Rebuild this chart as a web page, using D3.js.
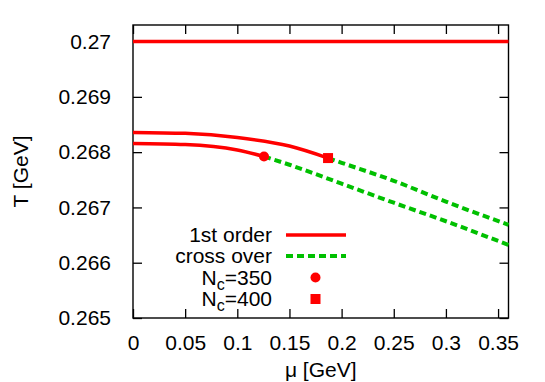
<!DOCTYPE html>
<html>
<head>
<meta charset="utf-8">
<script src="https://cdn.jsdelivr.net/npm/d3@7"></script>
<style>
html,body{margin:0;padding:0;background:#fff;}
svg{display:block;font-family:"Liberation Sans",Arial,Helvetica,sans-serif;}
</style>
</head>
<body>
<svg id="chart" width="545" height="382"></svg>
<script>
// ---- data ----
const xTicks = [0, 0.05, 0.1, 0.15, 0.2, 0.25, 0.3, 0.35];
const yTicks = [0.265, 0.266, 0.267, 0.268, 0.269, 0.27];
const xTickLabels = ["0", "0.05", "0.1", "0.15", "0.2", "0.25", "0.3", "0.35"];
const yTickLabels = ["0.265", "0.266", "0.267", "0.268", "0.269", "0.27"];

// first-order line at the top
const topLineMu = [0, 0.36];
const topLineT = [0.27, 0.27];

// N_c = 350
const first350Mu = [0, 0.05, 0.1, 0.1256];
const first350T = [0.268158, 0.268139, 0.268040, 0.267922];
const cross350Mu = [0.1256, 0.15, 0.2, 0.25, 0.3, 0.36];
const cross350T = [0.267922, 0.267772, 0.267430, 0.267085, 0.266750, 0.266322];

// N_c = 400
const first400Mu = [0, 0.05, 0.1, 0.15, 0.187];
const first400T = [0.268357, 0.268340, 0.268265, 0.268110, 0.267893];
const cross400Mu = [0.187, 0.2, 0.25, 0.3, 0.36];
const cross400T = [0.267893, 0.267808, 0.267482, 0.267105, 0.266685];

// end points
const endPointMu = [0.1256, 0.187];
const endPointT = [0.267922, 0.267893];

const legendLabels = ["1st order", "cross over", "350", "400"];

// ---- layout ----
const svg = d3.select("#chart");
const L = 133, R = 508.5, T = 25, B = 318;
const x = d3.scaleLinear().domain([0, 0.36]).range([L, R]);
const y = d3.scaleLinear().domain([0.265, 0.2703]).range([B, T]);
const RED = "#ff0000", GREEN = "#00c000";
const FS = 21;

const zip = (a, b) => a.map((v, i) => [v, b[i]]);
const line = d3.line().x(d => x(d[0])).y(d => y(d[1])).curve(d3.curveMonotoneX);

// axes with inward ticks
const tl = 9;
svg.append("g").attr("transform", `translate(0,${B})`)
  .call(d3.axisBottom(x).tickValues(xTicks).tickSize(-tl).tickFormat((d, i) => xTickLabels[i]).tickPadding(17))
  .call(g => g.select(".domain").remove());
svg.append("g").attr("transform", `translate(0,${T})`)
  .call(d3.axisTop(x).tickValues(xTicks).tickSize(-tl).tickFormat(""))
  .call(g => g.select(".domain").remove());
svg.append("g").attr("transform", `translate(${L},0)`)
  .call(d3.axisLeft(y).tickValues(yTicks).tickSize(-tl).tickFormat((d, i) => yTickLabels[i]).tickPadding(22))
  .call(g => g.select(".domain").remove());
svg.append("g").attr("transform", `translate(${R},0)`)
  .call(d3.axisRight(y).tickValues(yTicks).tickSize(-tl).tickFormat(""))
  .call(g => g.select(".domain").remove());

svg.selectAll(".tick line").attr("stroke", "#000").attr("stroke-width", 1.3);
svg.selectAll(".tick text").attr("font-size", FS).attr("fill", "#000")
  .attr("font-family", "Liberation Sans, Arial, sans-serif");

// frame
svg.append("rect").attr("x", L).attr("y", T).attr("width", R - L).attr("height", B - T)
  .attr("fill", "none").attr("stroke", "#000").attr("stroke-width", 1.4);

// curves
const plot = svg.append("g");
const LW = 3.5;
plot.append("path").datum(zip(topLineMu, topLineT)).attr("d", line)
  .attr("fill", "none").attr("stroke", RED).attr("stroke-width", LW);
plot.append("path").datum(zip(first350Mu, first350T)).attr("d", line)
  .attr("fill", "none").attr("stroke", RED).attr("stroke-width", LW);
plot.append("path").datum(zip(first400Mu, first400T)).attr("d", line)
  .attr("fill", "none").attr("stroke", RED).attr("stroke-width", LW);
plot.append("path").datum(zip(cross350Mu, cross350T)).attr("d", line)
  .attr("fill", "none").attr("stroke", GREEN).attr("stroke-width", LW + 0.5).attr("stroke-dasharray", "7,4");
plot.append("path").datum(zip(cross400Mu, cross400T)).attr("d", line)
  .attr("fill", "none").attr("stroke", GREEN).attr("stroke-width", LW + 0.5).attr("stroke-dasharray", "7,4");

// end markers
plot.append("circle").attr("cx", x(endPointMu[0])).attr("cy", y(endPointT[0])).attr("r", 5).attr("fill", RED);
plot.append("rect").attr("x", x(endPointMu[1]) - 5).attr("y", y(endPointT[1]) - 5)
  .attr("width", 10).attr("height", 10).attr("fill", RED);

// legend
const lg = svg.append("g");
const tx = 272, lx1 = 286, lx2 = 346, sx = 315.5;
const rows = [235, 256, 277.5, 299];
lg.append("text").attr("x", tx).attr("y", rows[0] + 7).attr("text-anchor", "end").attr("font-size", FS).text(legendLabels[0]);
lg.append("line").attr("x1", lx1).attr("x2", lx2).attr("y1", rows[0]).attr("y2", rows[0]).attr("stroke", RED).attr("stroke-width", LW);
lg.append("text").attr("x", tx).attr("y", rows[1] + 7).attr("text-anchor", "end").attr("font-size", FS).text(legendLabels[1]);
lg.append("line").attr("x1", lx1).attr("x2", lx2).attr("y1", rows[1]).attr("y2", rows[1]).attr("stroke", GREEN).attr("stroke-width", LW + 0.5).attr("stroke-dasharray", "7,4");
[2, 3].forEach(i => {
  const t = lg.append("text").attr("x", tx).attr("y", rows[i] + 7).attr("text-anchor", "end").attr("font-size", FS);
  t.append("tspan").text("N");
  t.append("tspan").attr("font-size", 16).attr("dy", 5).text("c");
  t.append("tspan").attr("dy", -5).text("=" + legendLabels[i]);
});
lg.append("circle").attr("cx", sx).attr("cy", rows[2]).attr("r", 5).attr("fill", RED);
lg.append("rect").attr("x", sx - 5).attr("y", rows[3] - 5).attr("width", 10).attr("height", 10).attr("fill", RED);

// axis titles
svg.append("text").attr("x", (L + R) / 2).attr("y", 377).attr("text-anchor", "middle")
  .attr("font-size", FS).text("μ [GeV]");
svg.append("text").attr("transform", `translate(28,${(T + B) / 2}) rotate(-90)`)
  .attr("text-anchor", "middle").attr("font-size", FS).text("T [GeV]");
</script>
</body>
</html>
